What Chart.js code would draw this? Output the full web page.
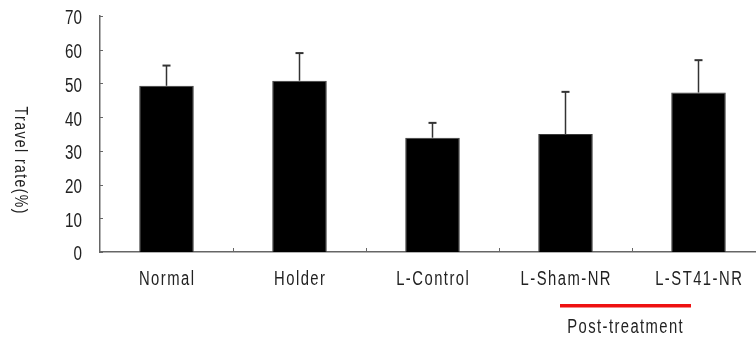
<!DOCTYPE html>
<html>
<head>
<meta charset="utf-8">
<script src="https://cdn.jsdelivr.net/npm/chart.js@4/dist/chart.umd.min.js"></script>
<style>
  html, body { margin: 0; padding: 0; background: #fff; overflow: hidden; }
  #wrap { width: 756px; height: 338px; overflow: hidden; position: relative; }
  canvas { display: block; }
</style>
</head>
<body>
<div id="wrap"><canvas id="chart" width="765" height="338"></canvas></div>
<script>
// Travel rate (%) per group, mean and SD (upper whisker only)
const categories = ['Normal', 'Holder', 'L-Control', 'L-Sham-NR', 'L-ST41-NR'];
const travelRate = [49.3, 50.8, 33.9, 35.0, 47.3];
const travelRateSD = [6.0, 8.2, 4.4, 12.5, 9.6];
const yTickValues = [0, 10, 20, 30, 40, 50, 60, 70];
const yAxisTitle = 'Travel rate(%)';
const groupNote = 'Post-treatment';
const groupedCategories = ['L-Sham-NR', 'L-ST41-NR'];

const FONT = '"Liberation Sans", Arial, sans-serif';
const TEXT_COLOR = '#222';
const AXIS_COLOR = '#666';

// Draws condensed, letter-spaced text; align is 'left' | 'center' | 'right'
function squeezedText(ctx, text, x, y, size, squeeze, spacing, align, baseline) {
  ctx.save();
  ctx.font = size + 'px ' + FONT;
  ctx.letterSpacing = spacing + 'px';
  ctx.textAlign = 'left';
  ctx.textBaseline = baseline;
  const w = (ctx.measureText(text).width - spacing) * squeeze;
  let x0 = x;
  if (align === 'center') x0 = x - w / 2;
  else if (align === 'right') x0 = x - w;
  ctx.translate(x0, y);
  ctx.scale(squeeze, 1);
  ctx.fillText(text, 0, 0);
  ctx.restore();
}

// Upper error whiskers with a flat cap
const errorBars = {
  id: 'errorBars',
  afterDatasetsDraw(chart) {
    const ctx = chart.ctx;
    const y = chart.scales.y;
    const meta = chart.getDatasetMeta(0);
    ctx.save();
    ctx.strokeStyle = '#333';
    meta.data.forEach((bar, i) => {
      const top = y.getPixelForValue(travelRate[i] + travelRateSD[i]);
      ctx.lineWidth = 1.5;
      ctx.beginPath();
      ctx.moveTo(bar.x, bar.y);
      ctx.lineTo(bar.x, top);
      ctx.stroke();
      ctx.lineWidth = 2;
      ctx.beginPath();
      ctx.moveTo(bar.x - 4, top);
      ctx.lineTo(bar.x + 4, top);
      ctx.stroke();
    });
    ctx.restore();
  }
};

// Tick marks, tick labels, category labels, group bracket and axis title
const decorations = {
  id: 'decorations',
  afterDraw(chart) {
    const ctx = chart.ctx;
    const xs = chart.scales.x;
    const ys = chart.scales.y;
    const area = chart.chartArea;
    ctx.save();
    ctx.fillStyle = TEXT_COLOR;

    // y tick marks pointing into the plot, with labels
    ctx.strokeStyle = AXIS_COLOR;
    ctx.lineWidth = 1;
    ys.ticks.forEach(t => {
      const py = ys.getPixelForValue(t.value);
      ctx.beginPath();
      ctx.moveTo(area.left, Math.round(py) + 0.5);
      ctx.lineTo(area.left + 3, Math.round(py) + 0.5);
      ctx.stroke();
      squeezedText(ctx, String(t.value), area.left - 18, py + 3, 19.5, 0.78, 0, 'right', 'middle');
    });

    // x tick marks between categories
    const step = xs.getPixelForValue(1) - xs.getPixelForValue(0);
    for (let i = 1; i < categories.length; i++) {
      const px = Math.round(xs.getPixelForValue(i) - step / 2) + 0.5;
      ctx.beginPath();
      ctx.moveTo(px, area.bottom);
      ctx.lineTo(px, area.bottom - 4);
      ctx.stroke();
    }

    // category labels
    categories.forEach((c, i) => {
      squeezedText(ctx, c, xs.getPixelForValue(i), 285, 20, 0.74, 2, 'center', 'alphabetic');
    });

    // bracket under the treated groups
    const a = categories.indexOf(groupedCategories[0]);
    const b = categories.indexOf(groupedCategories[1]);
    const mid = (xs.getPixelForValue(a) + xs.getPixelForValue(b)) / 2;
    ctx.fillStyle = '#ee1111';
    ctx.fillRect(mid - 72, 304, 131, 3.5);
    ctx.fillStyle = TEXT_COLOR;
    squeezedText(ctx, groupNote, mid - 7, 332.5, 20, 0.74, 1.9, 'center', 'alphabetic');

    // y axis title, read top to bottom
    ctx.translate(20, 160);
    ctx.rotate(Math.PI / 2);
    squeezedText(ctx, yAxisTitle, 0, 0, 19, 0.74, 1.9, 'center', 'middle');
    ctx.restore();
  }
};

new Chart(document.getElementById('chart'), {
  type: 'bar',
  data: {
    labels: categories,
    datasets: [{
      data: travelRate,
      backgroundColor: '#000',
      borderColor: '#3a3a3a',
      borderWidth: 1,
      barPercentage: 0.41,
      categoryPercentage: 1.0
    }]
  },
  options: {
    responsive: false,
    animation: false,
    devicePixelRatio: 1,
    layout: { padding: { top: 16, left: 0, right: 0, bottom: 0 } },
    plugins: { legend: { display: false }, tooltip: { enabled: false } },
    scales: {
      x: {
        offset: true,
        grid: { display: false, drawTicks: false },
        border: { display: true, color: AXIS_COLOR, width: 1.5 },
        ticks: { display: false },
        afterFit(scale) { scale.height = 86; }
      },
      y: {
        min: 0,
        max: 70,
        grid: { display: false, drawTicks: false },
        border: { display: true, color: AXIS_COLOR, width: 1.5 },
        ticks: { display: false, stepSize: 10 },
        afterBuildTicks(scale) {
          scale.ticks = yTickValues.map(v => ({ value: v }));
        },
        afterFit(scale) { scale.width = 100; }
      }
    }
  },
  plugins: [errorBars, decorations]
});
</script>
</body>
</html>
